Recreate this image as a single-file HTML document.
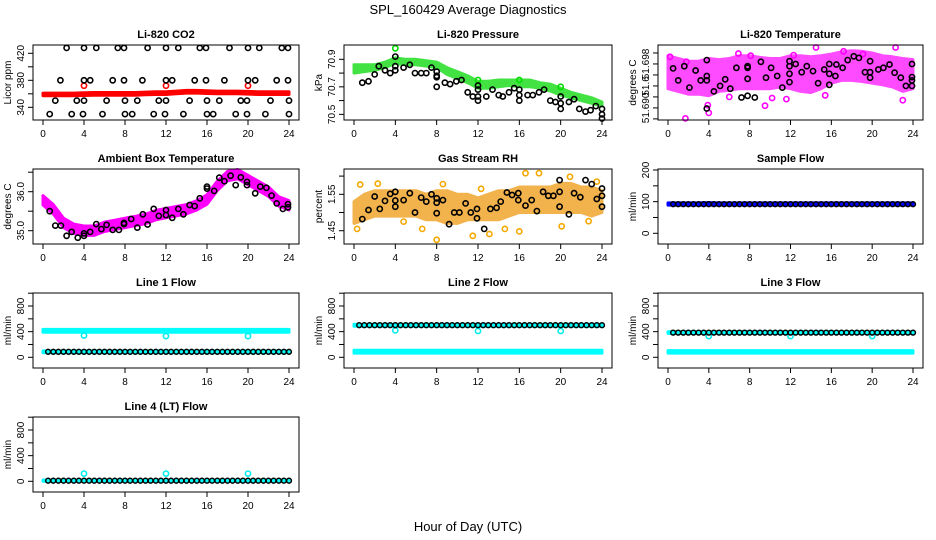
<!DOCTYPE html>
<html><head><meta charset="utf-8">
<style>
html,body{margin:0;padding:0;background:#fff;}
svg{display:block;font-family:"Liberation Sans",Arial,sans-serif;}
</style></head>
<body>
<svg id="fig" width="936" height="540" viewBox="0 0 936 540" xmlns="http://www.w3.org/2000/svg">
<text x="468" y="14" text-anchor="middle" font-size="13">SPL_160429  Average Diagnostics</text>
<text x="468" y="531" text-anchor="middle" font-size="13">Hour of Day (UTC)</text>
</svg>
<script>
// ---------- data ----------
const bandHours = [0,1,2,3,4,5,6,7,8,9,10,11,12,13,14,15,16,17,18,19,20,21,22,23,24];
const flowHours = [0.5,1,1.5,2,2.5,3,3.5,4,4.5,5,5.5,6,6.5,7,7.5,8,8.5,9,9.5,10,10.5,11,11.5,12,12.5,13,13.5,14,14.5,15,15.5,16,16.5,17,17.5,18,18.5,19,19.5,20,20.5,21,21.5,22,22.5,23,23.5,24];
const outlierHours = [4,12,20];

// CO2
const co2BlackHours = [2.3,4.0,5.2,7.3,7.9,10.2,12.0,13.2,15.3,15.9,18.2,20.0,21.1,23.3,23.9, 1.7,4.0,4.6,6.8,7.9,9.7,12.0,12.6,14.8,15.9,17.7,20.0,20.7,22.8,23.9, 1.2,3.3,4.0,6.2,8.0,9.2,11.3,12.0,14.3,16.0,17.2,19.3,19.9,22.2,24.0, 0.65,2.8,3.9,5.8,8.0,8.7,10.8,11.9,13.7,16.0,16.6,18.8,19.9,21.7,24.0];
const co2BlackValues = [428,428,428,428,428,428,428,428,428,428,428,428,428,428,428, 380,380,380,380,380,380,380,380,380,380,380,380,380,380,380, 350,350,350,350,350,350,350,350,350,350,350,350,350,350,350, 330,330,330,330,330,330,330,330,330,330,330,330,330,330,330];
const co2RedLo = [357,357,357,357,357.5,358,358,358,358,358,358.5,359,359,360,361,361,360.5,360,360,360,359.5,359,359,359,359];
const co2RedHi = [361,361,361,361,361.5,362,362,362,362,362,362.5,363,363,364,365,365,364.5,364,364,364,363.5,363,363,363,363];
const co2RedOutliers = [372,372,372];

// Pressure
const presBlackHours = [0.8,1.4,2.0,2.4,3.0,3.5,4.0,4.0,4.0,4.8,5.4,5.9,6.5,7.0,7.5,8,8,8,8,8.8,9.3,9.9,10.4,11.0,11.5,12,12,12,12,12.8,13.4,14.0,14.4,15.0,15.5,16,16,16,16.8,17.3,17.9,18.4,19.0,19.5,20,20,20,20.8,21.3,21.8,22.4,22.9,23.4,24,24,24];
const presBlackValues = [70.73,70.74,70.79,70.85,70.82,70.80,70.82,70.85,70.92,70.84,70.86,70.80,70.80,70.80,70.84,70.78,70.77,70.70,70.81,70.73,70.72,70.74,70.75,70.66,70.63,70.63,70.60,70.68,70.71,70.63,70.68,70.64,70.63,70.66,70.69,70.68,70.64,70.60,70.64,70.64,70.66,70.68,70.60,70.59,70.58,70.54,70.63,70.59,70.61,70.54,70.52,70.53,70.56,70.54,70.50,70.47];
const presGreenHi = [70.86,70.86,70.86,70.88,70.91,70.90,70.90,70.89,70.88,70.84,70.81,70.78,70.74,70.74,70.75,70.75,70.75,70.75,70.73,70.72,70.69,70.66,70.64,70.62,70.59];
const presGreenLo = [70.80,70.81,70.82,70.84,70.87,70.86,70.86,70.85,70.84,70.79,70.76,70.73,70.69,70.69,70.70,70.71,70.70,70.70,70.69,70.67,70.64,70.62,70.60,70.58,70.56];
const presGreenOutlierHours = [4,12,16,20];
const presGreenOutliers = [70.98,70.75,70.75,70.70];

// Li-820 temperature
const tempBlackHours = [0.5,1.0,1.6,2.1,2.7,3.2,3.8,3.8,3.8,3.8,4.5,5.1,5.6,6.1,6.7,7.2,7.8,7.8,7.8,7.8,8.5,9.1,9.6,10.1,10.7,11.2,11.9,11.9,11.9,11.9,12.5,13.1,13.6,14.2,14.7,15.3,15.8,15.8,15.8,16.4,16.5,17.1,17.6,18.2,18.7,19.3,19.8,19.8,19.8,20.6,21.1,21.7,22.2,22.8,23.3,23.9,23.9,23.9,23.9];
const tempBlackValues = [51.6972,51.6950,51.6976,51.6937,51.6968,51.6950,51.6987,51.6958,51.6950,51.6899,51.6930,51.6940,51.6952,51.6935,51.6973,51.6919,51.6973,51.6953,51.6922,51.6976,51.6919,51.6984,51.6955,51.6973,51.6958,51.6937,51.6985,51.6976,51.6962,51.6947,51.6980,51.6965,51.6976,51.6967,51.6945,51.6970,51.6980,51.6962,51.6942,51.6958,51.6979,51.6973,51.6987,51.6994,51.6991,51.6965,51.6985,51.6965,51.6955,51.6970,51.6973,51.6979,51.6964,51.6955,51.6940,51.6980,51.6956,51.6950,51.6940];
const tempMagHi = [51.6995,51.6990,51.6985,51.6985,51.6990,51.6988,51.6990,51.6995,51.6995,51.6992,51.6990,51.6990,51.6995,51.6995,51.6993,51.6995,51.6998,51.7002,51.7004,51.7003,51.7000,51.6995,51.6993,51.6990,51.6988];
const tempMagLo = [51.6935,51.6930,51.6925,51.6925,51.6922,51.6930,51.6932,51.6935,51.6935,51.6935,51.6935,51.6938,51.6935,51.6930,51.6928,51.6935,51.6945,51.6950,51.6950,51.6948,51.6945,51.6942,51.6938,51.6930,51.6935];
const tempMagOutlierHours = [6.9,1.8,1.7,4.0,9.5,22.3,14.5,12.3,8.1,11.6,23.0,15.4,0.2,3.9,10.2,19.1,6.0,17.2];
const tempMagOutliers = [51.6999,51.6984,51.6881,51.6891,51.6904,51.7010,51.7010,51.6996,51.6995,51.6916,51.6914,51.6923,51.6993,51.6905,51.6918,51.6998,51.6920,51.7003];

// Ambient box temperature
const ambBlackHours = [0.65,1.2,1.75,2.3,2.8,3.4,4,4,4.6,5.2,5.7,6.2,6.8,7.4,7.9,7.9,8.6,9.2,9.75,10.2,10.8,11.3,12,12,12.6,13.2,13.7,14.3,14.8,15.3,16,16,16.7,17.2,17.7,18.3,18.8,19.3,19.9,19.9,20.7,21.2,21.8,22.3,22.8,23.4,23.9,23.9];
const ambBlackValues = [35.5,35.13,35.13,34.87,34.97,34.82,34.93,34.87,34.97,35.17,35.04,35.15,35.02,35.02,35.2,35.17,35.3,35.08,35.42,35.16,35.56,35.38,35.53,35.4,35.33,35.56,35.42,35.66,35.63,35.83,36.13,36.08,36.02,36.36,36.27,36.41,36.17,36.37,36.25,36.17,35.96,36.13,36.1,35.9,35.7,35.56,35.68,35.6];
const ambMagHi = [35.90,35.67,35.32,35.17,35.12,35.12,35.22,35.27,35.32,35.37,35.42,35.52,35.57,35.62,35.67,35.77,35.92,36.27,36.52,36.57,36.42,36.27,36.12,35.87,35.77];
const ambMagLo = [35.66,35.43,35.08,34.93,34.88,34.88,34.98,35.03,35.08,35.13,35.18,35.28,35.33,35.38,35.43,35.53,35.68,36.03,36.28,36.33,36.18,36.03,35.88,35.63,35.53];

// Gas stream RH
const rhBlackHours = [0.8,1.4,2.0,2.5,3.0,3.5,4,4,4,4.8,5.4,5.9,6.5,7.0,7.5,8,8,8,8.6,9.2,9.7,10.2,10.8,11.3,11.9,11.9,12.6,13.2,13.8,14.2,14.8,15.3,15.9,15.9,16.6,17.2,17.7,18.3,18.8,19.3,19.9,19.9,19.9,20.8,21.3,21.9,22.4,23.0,23.5,24,24,24];
const rhBlackValues = [1.482,1.507,1.544,1.51,1.532,1.551,1.557,1.533,1.516,1.534,1.553,1.50,1.541,1.53,1.55,1.539,1.527,1.498,1.534,1.468,1.50,1.50,1.525,1.50,1.51,1.484,1.455,1.51,1.513,1.53,1.555,1.548,1.553,1.534,1.519,1.534,1.504,1.557,1.546,1.546,1.516,1.589,1.557,1.495,1.553,1.542,1.589,1.578,1.537,1.566,1.546,1.516];
const rhOrangeHi = [1.53,1.55,1.56,1.56,1.56,1.56,1.56,1.55,1.56,1.56,1.55,1.55,1.54,1.55,1.56,1.56,1.57,1.57,1.57,1.57,1.58,1.58,1.57,1.57,1.56];
const rhOrangeLo = [1.47,1.48,1.49,1.49,1.49,1.49,1.49,1.48,1.48,1.47,1.47,1.48,1.48,1.48,1.48,1.49,1.50,1.50,1.50,1.50,1.50,1.50,1.50,1.49,1.50];
const rhOrangeOutlierHours = [0.6,2.3,6.6,8.0,11.5,13.1,14.6,16.0,16.6,17.9,20.1,20.9,22.7,23.5,0.3,4.8,8.6,12.3];
const rhOrangeOutliers = [1.577,1.579,1.455,1.425,1.436,1.441,1.455,1.448,1.608,1.608,1.462,1.598,1.476,1.585,1.455,1.475,1.578,1.565];

// Sample flow
const sampleBlackValues = [92,92,92,92,92,92,92,92,92,92,92,92,92,92,92,92,92,92,92,92,92,92,92,92,92,92,92,92,92,92,92,92,92,92,92,92,92,92,92,92,92,92,92,92,92,92,92,92];
const sampleBlueHi = [96,96,96,96,97,96,96,96,96,96,96,96,96,96,96,96,96,96,96,96,96,96,96,96,96];
const sampleBlueLo = [89,89,89,89,89,89,89,89,89,89,89,89,89,89,89,89,89,89,89,89,89,89,89,89,89];

// Line flows
const line1BlackValues = [85,85,85,85,85,85,85,85,85,85,85,85,85,85,85,85,85,85,85,85,85,85,85,85,85,85,85,85,85,85,85,85,85,85,85,85,85,85,85,85,85,85,85,85,85,85,85,85];
const line1CyanHi = [435,435,435,435,435,435,435,435,435,435,435,435,435,435,435,435,435,435,435,435,435,435,435,435,435];
const line1CyanLo = [390,390,390,390,390,390,390,390,390,390,390,390,390,390,390,390,390,390,390,390,390,390,390,390,390];
const line1CyanLowHi = [100,100,100,100,100,100,100,100,100,100,100,100,100,100,100,100,100,100,100,100,100,100,100,100,100];
const line1CyanLowLo = [70,70,70,70,70,70,70,70,70,70,70,70,70,70,70,70,70,70,70,70,70,70,70,70,70];
const line1CyanOutliers = [340,330,330];

const line2BlackValues = [500,500,500,500,500,500,500,500,500,500,500,500,500,500,500,500,500,500,500,500,500,500,500,500,500,500,500,500,500,500,500,500,500,500,500,500,500,500,500,500,500,500,500,500,500,500,500,500];
const line2CyanHi = [515,515,515,515,515,515,515,515,515,515,515,515,515,515,515,515,515,515,515,515,515,515,515,515,515];
const line2CyanLo = [485,485,485,485,485,485,485,485,485,485,485,485,485,485,485,485,485,485,485,485,485,485,485,485,485];
const line2CyanLowHi = [110,110,110,110,110,110,110,110,110,110,110,110,110,110,110,110,110,110,110,110,110,110,110,110,110];
const line2CyanLowLo = [65,65,65,65,65,65,65,65,65,65,65,65,65,65,65,65,65,65,65,65,65,65,65,65,65];
const line2CyanOutliers = [420,410,410];

const line3BlackValues = [385,385,385,385,385,385,385,385,385,385,385,385,385,385,385,385,385,385,385,385,385,385,385,385,385,385,385,385,385,385,385,385,385,385,385,385,385,385,385,385,385,385,385,385,385,385,385,385];
const line3CyanHi = [400,400,400,400,400,400,400,400,400,400,400,400,400,400,400,400,400,400,400,400,400,400,400,400,400];
const line3CyanLo = [372,372,372,372,372,372,372,372,372,372,372,372,372,372,372,372,372,372,372,372,372,372,372,372,372];
const line3CyanLowHi = [105,105,105,105,105,105,105,105,105,105,105,105,105,105,105,105,105,105,105,105,105,105,105,105,105];
const line3CyanLowLo = [65,65,65,65,65,65,65,65,65,65,65,65,65,65,65,65,65,65,65,65,65,65,65,65,65];
const line3CyanOutliers = [330,330,330];

const line4BlackValues = [10,10,10,10,10,10,10,10,10,10,10,10,10,10,10,10,10,10,10,10,10,10,10,10,10,10,10,10,10,10,10,10,10,10,10,10,10,10,10,10,10,10,10,10,10,10,10,10];
const line4CyanHi = [20,20,20,20,20,20,20,20,20,20,20,20,20,20,20,20,20,20,20,20,20,20,20,20,20];
const line4CyanLo = [0,0,0,0,0,0,0,0,0,0,0,0,0,0,0,0,0,0,0,0,0,0,0,0,0];
const line4CyanOutliers = [120,120,120];

const xTicks = [0,4,8,12,16,20,24];

// ---------- drawing ----------
const NS = "http://www.w3.org/2000/svg";
const svg = document.getElementById("fig");
const colLeft = [33, 344, 658];
const colRight = [299, 612, 923];
const rowTop = [45, 169, 293, 417];
const BOXH = 75;

function mk(tag, attrs, parent) {
  const e = document.createElementNS(NS, tag);
  for (const k in attrs) e.setAttribute(k, attrs[k]);
  parent.appendChild(e);
  return e;
}

function panel(name, col, row, title, ylab, dom, ticks, labels) {
  const L = colLeft[col], R = colRight[col], T = rowTop[row], B = T + BOXH;
  const g = mk("g", {}, svg);
  
  
  const x = h => (L + 10) + (h / 24) * (R - L - 20);
  const y = v => B - (v - dom[0]) / (dom[1] - dom[0]) * BOXH;
  const plot = mk("g", {}, g);
  
  
  const t = mk("text", {x: (L + R) / 2, y: T - 7, "text-anchor": "middle", "font-size": 11, "font-weight": "bold"}, g);
  t.textContent = title;
  
  
  const yl = mk("text", {x: 0, y: 0, "text-anchor": "middle", "font-size": 10, transform: `translate(${L - 22},${(T + B) / 2}) rotate(-90)`}, g);
  yl.textContent = ylab;
  
  
  const box = mk("rect", {x: L, y: T, width: R - L, height: BOXH, fill: "none", stroke: "#000", "stroke-width": 1}, g);
  
  
  const xa = mk("g", {}, g);
  
  
  xTicks.forEach(h => {
    mk("line", {x1: x(h), x2: x(h), y1: B, y2: B + 5, stroke: "#000"}, xa);
    const tl = mk("text", {x: x(h), y: B + 17, "text-anchor": "middle", "font-size": 10}, xa);
    tl.textContent = h;
    
    
  });
  const ya = mk("g", {}, g);
  
  
  ticks.forEach((v, i) => {
    mk("line", {x1: L - 5, x2: L, y1: y(v), y2: y(v), stroke: "#000"}, ya);
    if (labels[i] !== "") {
      const tl = mk("text", {x: 0, y: 0, "text-anchor": "middle", "font-size": 10, transform: `translate(${L - 9},${y(v)}) rotate(-90)`}, ya);
      tl.textContent = labels[i];
      
      
    }
  });
  return {x, y, plot, L, R, T, B};
}

function band(p, hours, hi, lo, color, name, op) {
  let d = "";
  hours.forEach((h, i) => { d += (i ? "L" : "M") + p.x(h).toFixed(1) + "," + p.y(hi[i]).toFixed(1); });
  for (let i = hours.length - 1; i >= 0; i--) d += "L" + p.x(hours[i]).toFixed(1) + "," + p.y(lo[i]).toFixed(1);
  d += "Z";
  const e = mk("path", {d, fill: color, stroke: color, "stroke-width": 3, "stroke-linejoin": "round", opacity: op || 1}, p.plot);
  
  
}

function pts(p, hours, vals, color, name, r, sw) {
  const g = mk("g", {}, p.plot);
  
  
  hours.forEach((h, i) => {
    const c = mk("circle", {cx: p.x(h).toFixed(1), cy: p.y(vals[i]).toFixed(1), r: r || 2.6, fill: "none", stroke: color, "stroke-width": sw || 1.6}, g);
    
    
  });
}

// Panel 1 CO2
let p = panel("co2", 0, 0, "Li-820 CO2", "Licor ppm", [321.2, 432.3], [340,360,380,400,420], ["340","","380","","420"]);
band(p, bandHours, co2RedHi, co2RedLo, "#f00", "co2-red-band");
pts(p, outlierHours, co2RedOutliers, "#f00", "co2-red-outliers");
pts(p, co2BlackHours, co2BlackValues, "#000", "co2-black-points");

// Panel 2 Pressure
p = panel("pressure", 1, 0, "Li-820 Pressure", "kPa", [70.459, 71.004], [70.5,70.6,70.7,70.8,70.9], ["70.5","","70.7","","70.9"]);
band(p, bandHours, presGreenHi, presGreenLo, "#22dd22", "pressure-green-band", 0.85);
pts(p, presGreenOutlierHours, presGreenOutliers, "#0d0", "pressure-green-outliers");
pts(p, presBlackHours, presBlackValues, "#000", "pressure-black-points");

// Panel 3 Temperature
p = panel("li820-temp", 2, 0, "Li-820 Temperature", "degrees C", [51.6878, 51.70145], [51.688,51.690,51.692,51.694,51.696,51.698,51.700], ["","51.690","","51.6","","51.698",""]);
band(p, bandHours, tempMagHi, tempMagLo, "#f0f", "temp-magenta-band", 0.7);
pts(p, tempMagOutlierHours, tempMagOutliers, "#f0f", "temp-magenta-outliers");
pts(p, tempBlackHours, tempBlackValues, "#000", "temp-black-points");

// Panel 4 Ambient
p = panel("ambient", 0, 1, "Ambient Box Temperature", "degrees C", [34.659, 36.582], [35.0,35.5,36.0,36.5], ["35.0","","36.0",""]);
band(p, bandHours, ambMagHi, ambMagLo, "#f0f", "ambient-magenta-band");
pts(p, ambBlackHours, ambBlackValues, "#000", "ambient-black-points");

// Panel 5 RH
p = panel("rh", 1, 1, "Gas Stream RH", "percent", [1.4135, 1.6195], [1.45,1.50,1.55,1.60], ["1.45","","1.55",""]);
band(p, bandHours, rhOrangeHi, rhOrangeLo, "#f0a020", "rh-orange-band", 0.8);
pts(p, rhOrangeOutlierHours, rhOrangeOutliers, "#f5a800", "rh-orange-outliers");
pts(p, rhBlackHours, rhBlackValues, "#000", "rh-black-points");

// Panel 6 Sample flow
p = panel("sample-flow", 2, 1, "Sample Flow", "ml/min", [-33.8, 203.2], [0,50,100,150,200], ["0","","100","","200"]);
band(p, bandHours, sampleBlueHi, sampleBlueLo, "#00f", "sample-blue-band");
pts(p, flowHours, sampleBlackValues, "#000", "sample-black-points", 2.4, 1.5);

const flowDom = [-167, 1003];
const flowTicks = [0,200,400,600,800,1000];
const flowLabels = ["0","","400","","800",""];

// Line 1
p = panel("line1-flow", 0, 2, "Line 1 Flow", "ml/min", flowDom, flowTicks, flowLabels);
band(p, bandHours, line1CyanHi, line1CyanLo, "#0ff", "line1-cyan-high-band");
band(p, bandHours, line1CyanLowHi, line1CyanLowLo, "#0ff", "line1-cyan-low-band");
pts(p, outlierHours, line1CyanOutliers, "#0ee", "line1-cyan-outliers");
pts(p, flowHours, line1BlackValues, "#000", "line1-black-points", 2.4, 1.5);

// Line 2
p = panel("line2-flow", 1, 2, "Line 2 Flow", "ml/min", flowDom, flowTicks, flowLabels);
band(p, bandHours, line2CyanHi, line2CyanLo, "#0ff", "line2-cyan-high-band");
band(p, bandHours, line2CyanLowHi, line2CyanLowLo, "#0ff", "line2-cyan-low-band");
pts(p, outlierHours, line2CyanOutliers, "#0ee", "line2-cyan-outliers");
pts(p, flowHours, line2BlackValues, "#000", "line2-black-points", 2.4, 1.5);

// Line 3
p = panel("line3-flow", 2, 2, "Line 3 Flow", "ml/min", flowDom, flowTicks, flowLabels);
band(p, bandHours, line3CyanHi, line3CyanLo, "#0ff", "line3-cyan-high-band");
band(p, bandHours, line3CyanLowHi, line3CyanLowLo, "#0ff", "line3-cyan-low-band");
pts(p, outlierHours, line3CyanOutliers, "#0ee", "line3-cyan-outliers");
pts(p, flowHours, line3BlackValues, "#000", "line3-black-points", 2.4, 1.5);

// Line 4
p = panel("line4-flow", 0, 3, "Line 4 (LT) Flow", "ml/min", flowDom, flowTicks, flowLabels);
band(p, bandHours, line4CyanHi, line4CyanLo, "#0ff", "line4-cyan-band");
pts(p, outlierHours, line4CyanOutliers, "#0ee", "line4-cyan-outliers");
pts(p, flowHours, line4BlackValues, "#000", "line4-black-points", 2.4, 1.5);
</script>
</body></html>
